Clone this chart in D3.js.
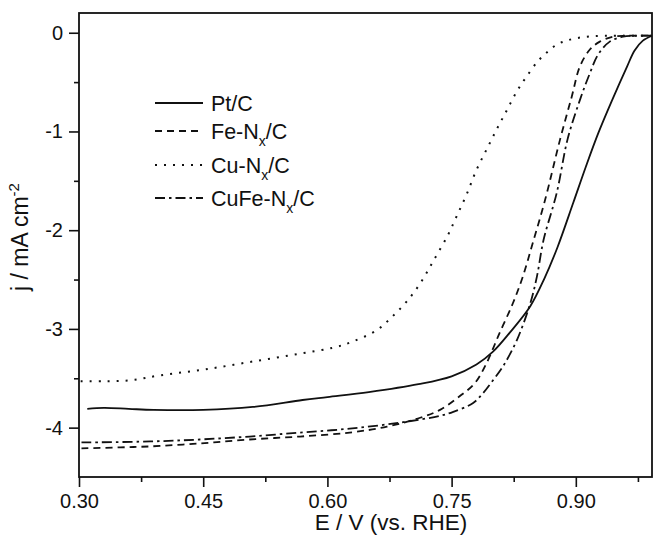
<!DOCTYPE html>
<html>
<head>
<meta charset="utf-8">
<script src="https://cdn.jsdelivr.net/npm/d3@7"></script>
<style>
  html, body { margin: 0; padding: 0; background: #fff; }
  svg { display: block; font-family: "Liberation Sans", Arial, Helvetica, sans-serif; }
</style>
</head>
<body>
<svg id="chart" width="654" height="536"></svg>
<script>
// ---------- data ----------
const seriesNames = ["Pt/C", "Fe-N", "Cu-N", "CuFe-N"];
const ptC = [
  [0.31,-3.81],[0.33,-3.80],[0.36,-3.81],[0.39,-3.82],[0.45,-3.82],[0.51,-3.79],
  [0.57,-3.72],[0.60,-3.69],[0.65,-3.64],[0.71,-3.56],[0.75,-3.48],[0.78,-3.36],
  [0.80,-3.23],[0.82,-3.04],[0.845,-2.77],[0.862,-2.49],[0.878,-2.17],[0.897,-1.72],
  [0.912,-1.36],[0.927,-1.02],[0.944,-0.68],[0.962,-0.34],[0.971,-0.18],[0.981,-0.08],[0.992,-0.03]
];
const feNC = [
  [0.303,-4.21],[0.35,-4.20],[0.386,-4.19],[0.446,-4.16],[0.506,-4.12],[0.567,-4.09],
  [0.627,-4.05],[0.672,-3.99],[0.712,-3.90],[0.736,-3.82],[0.76,-3.68],[0.778,-3.55],
  [0.792,-3.35],[0.808,-3.04],[0.824,-2.74],[0.836,-2.47],[0.848,-2.13],[0.863,-1.69],
  [0.881,-1.08],[0.895,-0.65],[0.905,-0.34],[0.917,-0.17],[0.929,-0.09],[0.945,-0.04],
  [0.96,-0.03],[0.992,-0.03]
];
const cuNC = [
  [0.302,-3.53],[0.33,-3.53],[0.362,-3.52],[0.398,-3.47],[0.452,-3.41],[0.51,-3.33],
  [0.567,-3.25],[0.607,-3.19],[0.63,-3.13],[0.66,-3.01],[0.679,-2.87],[0.696,-2.72],
  [0.712,-2.54],[0.728,-2.31],[0.7455,-2.05],[0.756,-1.86],[0.768,-1.64],[0.78,-1.39],
  [0.793,-1.17],[0.805,-0.97],[0.817,-0.78],[0.829,-0.59],[0.84,-0.45],[0.854,-0.29],
  [0.865,-0.20],[0.877,-0.12],[0.889,-0.08],[0.901,-0.055],[0.92,-0.035],[0.95,-0.03],[0.992,-0.03]
];
const cuFeNC = [
  [0.303,-4.15],[0.386,-4.14],[0.446,-4.12],[0.506,-4.09],[0.567,-4.05],[0.627,-4.01],
  [0.687,-3.95],[0.736,-3.88],[0.752,-3.84],[0.776,-3.75],[0.788,-3.65],[0.80,-3.52],
  [0.812,-3.38],[0.829,-3.11],[0.845,-2.74],[0.853,-2.47],[0.861,-2.10],[0.877,-1.62],
  [0.89,-1.08],[0.905,-0.68],[0.917,-0.41],[0.927,-0.22],[0.941,-0.09],[0.957,-0.04],
  [0.975,-0.03],[0.992,-0.03]
];
const xMajorTicks = [0.30, 0.45, 0.60, 0.75, 0.90];
const xMinorTicks = [0.375, 0.525, 0.675, 0.825, 0.975];
const yMajorTicks = [0, -1, -2, -3, -4];
const yMinorTicks = [-0.5, -1.5, -2.5, -3.5];
const xDomain = [0.30, 0.992];
const yDomain = [-4.5, 0.2];

// ---------- layout ----------
const svg = d3.select("#chart");
const L = 79, R = 652, T = 13, B = 477;
const x = d3.scaleLinear().domain(xDomain).range([L, R]);
const y = d3.scaleLinear().domain(yDomain).range([B, T]);

const styles = [
  { data: ptC,    dash: null,          width: 1.8 },
  { data: feNC,   dash: "7 5",         width: 1.8 },
  { data: cuNC,   dash: "2 7",         width: 2 },
  { data: cuFeNC, dash: "10 4 2.5 4",  width: 1.8 }
];

const line = d3.line().x(d => x(d[0])).y(d => y(d[1])).curve(d3.curveCatmullRom.alpha(0.5));

const plot = svg.append("g");
styles.forEach(s => {
  plot.append("path")
    .attr("d", line(s.data))
    .attr("fill", "none")
    .attr("stroke", "#111")
    .attr("stroke-width", s.width)
    .attr("stroke-dasharray", s.dash);
});

// axes
const fontTick = 20;
const xAxis = d3.axisBottom(x).tickValues(xMajorTicks).tickFormat(d3.format(".2f")).tickSize(10).tickSizeOuter(0);
const gx = svg.append("g").attr("transform", `translate(0,${B})`).call(xAxis);
gx.select(".domain").remove();
gx.selectAll("text").attr("font-size", fontTick).attr("font-family", "Liberation Sans, Arial, sans-serif").attr("fill", "#111").attr("dy", "0.9em");
gx.selectAll("line").attr("stroke", "#111").attr("stroke-width", 1.6);
const gxm = svg.append("g").attr("transform", `translate(0,${B})`)
  .call(d3.axisBottom(x).tickValues(xMinorTicks).tickSize(5).tickFormat(""));
gxm.select(".domain").remove();
gxm.selectAll("line").attr("stroke", "#111").attr("stroke-width", 1.6);

const yAxis = d3.axisLeft(y).tickValues(yMajorTicks).tickFormat(d => d === 0 ? "0" : String(d)).tickSize(10).tickSizeOuter(0);
const gy = svg.append("g").attr("transform", `translate(${L},0)`).call(yAxis);
gy.select(".domain").remove();
gy.selectAll("text").attr("font-size", fontTick).attr("font-family", "Liberation Sans, Arial, sans-serif").attr("fill", "#111").attr("x", -16);
gy.selectAll("line").attr("stroke", "#111").attr("stroke-width", 1.6);
const gym = svg.append("g").attr("transform", `translate(${L},0)`)
  .call(d3.axisLeft(y).tickValues(yMinorTicks).tickSize(5).tickFormat(""));
gym.select(".domain").remove();
gym.selectAll("line").attr("stroke", "#111").attr("stroke-width", 1.6);

// frame
svg.append("rect").attr("x", L).attr("y", T).attr("width", R - L).attr("height", B - T)
  .attr("fill", "none").attr("stroke", "#111").attr("stroke-width", 1.8);

// axis titles
svg.append("text").attr("x", 391).attr("y", 530).attr("text-anchor", "middle")
  .attr("font-size", 22.5).attr("fill", "#111").text("E / V (vs. RHE)");
const yt = svg.append("text").attr("transform", "translate(28,237) rotate(-90)")
  .attr("text-anchor", "middle").attr("font-size", 23).attr("fill", "#111");
yt.append("tspan").text("j / mA cm");
yt.append("tspan").attr("dy", -9).attr("font-size", 15).text("-2");

// legend
const legendRowsY = [103, 131, 165, 198];
const lg = svg.append("g");
styles.forEach((s, i) => {
  const yy = legendRowsY[i];
  lg.append("line").attr("x1", 155).attr("x2", 203).attr("y1", yy).attr("y2", yy)
    .attr("stroke", "#111").attr("stroke-width", s.width).attr("stroke-dasharray", s.dash);
  const t = lg.append("text").attr("x", 211).attr("y", yy + 8).attr("font-size", 21.5).attr("fill", "#111");
  if (i === 0) {
    t.text(seriesNames[i]);
  } else {
    t.append("tspan").text(seriesNames[i]);
    t.append("tspan").attr("dy", 7).attr("font-size", 14).text("x");
    t.append("tspan").attr("dy", -7).text("/C");
  }
});
</script>
</body>
</html>
